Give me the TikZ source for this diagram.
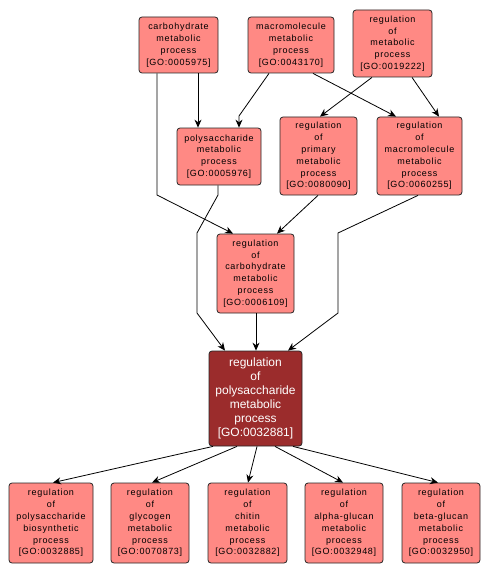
\documentclass[tikz,border=0pt]{standalone}
\usepackage{fontspec}
\usetikzlibrary{arrows.meta}
\newfontfamily\gofont[LetterSpace=8]{Liberation Sans}
\newfontfamily\gomainfont{Liberation Sans}
\definecolor{goLight}{RGB}{255,137,132}
\definecolor{goDark}{RGB}{155,44,44}
\tikzset{
  gobox/.style={draw=black!85, line width=0.8pt, rounded corners=3pt, fill=goLight,
    inner sep=0pt, align=center, font=\gofont\fontsize{9}{11.8}\selectfont, text=black},
  gomain/.style={gobox, fill=goDark, text=white, font=\gomainfont\fontsize{12}{14}\selectfont},
  goedge/.style={draw=black, line width=0.8pt, -{Stealth[length=8pt,width=7pt]}}
}
\begin{document}
\begin{tikzpicture}[x=1pt,y=-1pt]
\useasboundingbox (0,0) rectangle (491,575);
% top row
\node[gobox, minimum width=79pt, minimum height=56pt] (carb) at (178.5,45) {carbohydrate\\metabolic\\process\\{[GO:0005975]}};
\node[gobox, minimum width=86pt, minimum height=56pt] (macro) at (291,45) {macromolecule\\metabolic\\process\\{[GO:0043170]}};
\node[gobox, minimum width=79pt, minimum height=67pt] (regmet) at (392.5,43.5) {regulation\\of\\metabolic\\process\\{[GO:0019222]}};
% second row
\node[gobox, minimum width=84pt, minimum height=57pt] (poly) at (219,156.5) {polysaccharide\\metabolic\\process\\{[GO:0005976]}};
\node[gobox, minimum width=77pt, minimum height=78pt] (regprim) at (318.5,156) {regulation\\of\\primary\\metabolic\\process\\{[GO:0080090]}};
\node[gobox, minimum width=85pt, minimum height=78pt] (regmacro) at (419.5,156) {regulation\\of\\macromolecule\\metabolic\\process\\{[GO:0060255]}};
% third row
\node[gobox, minimum width=77pt, minimum height=79pt] (regcarb) at (255.5,273.5) {regulation\\of\\carbohydrate\\metabolic\\process\\{[GO:0006109]}};
% main
\node[gomain, minimum width=93pt, minimum height=95pt] (main) at (255.5,398.5) {regulation\\of\\polysaccharide\\metabolic\\process\\{[GO:0032881]}};
% bottom row
\node[gobox, minimum width=84pt, minimum height=80pt] (b1) at (51,523) {regulation\\of\\polysaccharide\\biosynthetic\\process\\{[GO:0032885]}};
\node[gobox, minimum width=78pt, minimum height=80pt] (b2) at (150,523) {regulation\\of\\glycogen\\metabolic\\process\\{[GO:0070873]}};
\node[gobox, minimum width=79pt, minimum height=80pt] (b3) at (247.5,523) {regulation\\of\\chitin\\metabolic\\process\\{[GO:0032882]}};
\node[gobox, minimum width=78pt, minimum height=80pt] (b4) at (344,523) {regulation\\of\\alpha-glucan\\metabolic\\process\\{[GO:0032948]}};
\node[gobox, minimum width=78pt, minimum height=80pt] (b5) at (441,523) {regulation\\of\\beta-glucan\\metabolic\\process\\{[GO:0032950]}};
% edges
\draw[goedge] (carb.south -| 198,0) -- (poly.north -| 198,0);
\draw[goedge] (carb.south -| 157,0) -- (157,195) -- (regcarb.north -| 233,0);
\draw[goedge] (macro.south -| 269,0) -- (239,116) -- (poly.north -| 239,0);
\draw[goedge] (macro.south -| 313,0) -- (regmacro.north -| 396,0);
\draw[goedge] (regmet.south -| 372,0) -- (regprim.north -| 320,0);
\draw[goedge] (regmet.south -| 412,0) -- (regmacro.north -| 439,0);
\draw[goedge] (poly.south -| 218,0) -- (218,195) -- (197,233) -- (197,313) -- (main.north -| 225,0);
\draw[goedge] (regprim.south -| 318,0) -- (regcarb.north -| 277,0);
\draw[goedge] (regmacro.south -| 418,0) -- (338,233) -- (338,313) -- (main.north -| 288,0);
\draw[goedge] (regcarb.south -| 256,0) -- (main.north -| 256,0);
\draw[goedge] (main.south -| 213,0) -- (b1.north -| 53,0);
\draw[goedge] (main.south -| 237,0) -- (b2.north -| 152,0);
\draw[goedge] (main.south -| 257,0) -- (b3.north -| 248,0);
\draw[goedge] (main.south -| 275,0) -- (b4.north -| 343,0);
\draw[goedge] (main.south -| 293,0) -- (b5.north -| 438,0);
\end{tikzpicture}
\end{document}
